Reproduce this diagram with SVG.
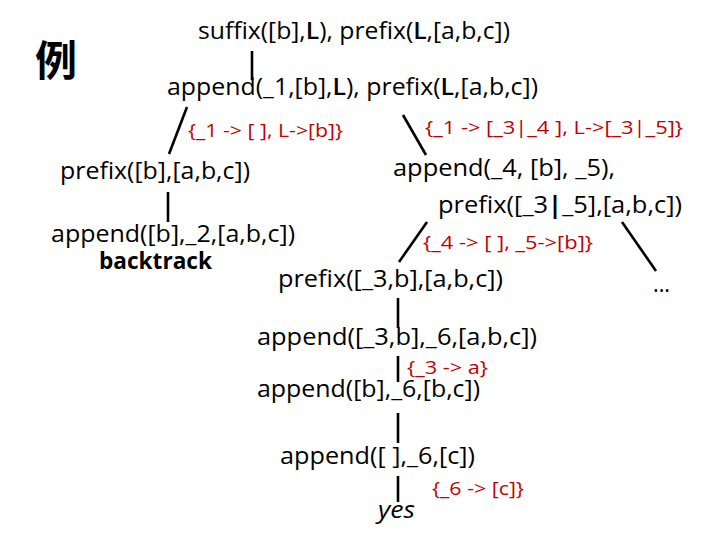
<svg xmlns="http://www.w3.org/2000/svg" width="720" height="540" viewBox="0 0 720 540">
<style>
.t{font-family:"Open Sans","Noto Sans","Liberation Sans",sans-serif;font-size:23px;fill:#000}
.r{font-family:"Open Sans","Noto Sans","Liberation Sans",sans-serif;font-size:19px;fill:#c00000}
.b{font-weight:bold}
.m{font-weight:600}
.cjk{font-family:"Noto Sans CJK SC","Noto Sans CJK JP",sans-serif;font-size:42px;font-weight:bold;fill:#000}
.c line{stroke:#000;stroke-width:2.6;stroke-linecap:butt}
</style>
<rect width="720" height="540" fill="#fff"/>
<g id="title"><text class="cjk" x="35" y="76">例</text></g>
<g class="c" id="connectors">
<line x1="252" y1="51" x2="252" y2="80"/>
<line x1="187" y1="107" x2="169" y2="154"/>
<line x1="403" y1="115" x2="426" y2="155"/>
<line x1="168" y1="192" x2="168" y2="222"/>
<line x1="427" y1="222" x2="399" y2="262"/>
<line x1="622" y1="222" x2="656" y2="271"/>
<line x1="398" y1="298" x2="398" y2="328"/>
<line x1="398" y1="356" x2="398" y2="382"/>
<line x1="398" y1="413" x2="398" y2="443"/>
<line x1="398" y1="476" x2="398" y2="502"/>
</g>
<g id="labels">
<text class="r" x="188" y="137" textLength="155" lengthAdjust="spacingAndGlyphs">{_1 -&gt; [ ], L-&gt;[b]}</text>
<text class="r" x="425" y="134" textLength="258" lengthAdjust="spacingAndGlyphs">{_1 -&gt; [_3|_4 ], L-&gt;[_3|_5]}</text>
<text class="r" x="423" y="249" textLength="170" lengthAdjust="spacingAndGlyphs">{_4 -&gt; [ ], _5-&gt;[b]}</text>
<text class="r" x="407" y="374" textLength="81" lengthAdjust="spacingAndGlyphs">{_3 -&gt; a}</text>
<text class="r" x="432" y="495" textLength="92" lengthAdjust="spacingAndGlyphs">{_6 -&gt; [c]}</text>
</g>
<g id="n0"><text class="t" x="198" y="39" textLength="312" lengthAdjust="spacingAndGlyphs">suffix([b],<tspan class="m">L</tspan>), prefix(<tspan class="m">L</tspan>,[a,b,c])</text></g>
<g id="n1"><text class="t" x="167" y="95" textLength="371" lengthAdjust="spacingAndGlyphs">append(_1,[b],<tspan class="m">L</tspan>), prefix(<tspan class="m">L</tspan>,[a,b,c])</text></g>
<g id="n2"><text class="t" x="60" y="179" textLength="190" lengthAdjust="spacingAndGlyphs">prefix([b],[a,b,c])</text></g>
<g id="n3"><text class="t" x="51" y="242" textLength="244" lengthAdjust="spacingAndGlyphs">append([b],_2,[a,b,c])</text>
<text class="t b" x="99" y="269" textLength="113" lengthAdjust="spacingAndGlyphs">backtrack</text></g>
<g id="n4"><text class="t" x="393" y="176" textLength="222" lengthAdjust="spacingAndGlyphs">append(_4, [b], _5),</text>
<text class="t" x="438" y="213" textLength="244" lengthAdjust="spacingAndGlyphs">prefix([_3<tspan class="b">|</tspan>_5],[a,b,c])</text></g>
<g id="n5"><text class="t" x="278" y="287" textLength="225" lengthAdjust="spacingAndGlyphs">prefix([_3,b],[a,b,c])</text></g>
<g id="n6"><text class="t" x="653" y="292" textLength="17" lengthAdjust="spacingAndGlyphs">...</text></g>
<g id="n7"><text class="t" x="257" y="345" textLength="280" lengthAdjust="spacingAndGlyphs">append([_3,b],_6,[a,b,c])</text></g>
<g id="n8"><text class="t" x="257" y="397" textLength="223" lengthAdjust="spacingAndGlyphs">append([b],_6,[b,c])</text></g>
<g id="n9"><text class="t" x="280" y="464" textLength="195" lengthAdjust="spacingAndGlyphs">append([ ],_6,[c])</text></g>
<g id="n10"><text class="t" x="378" y="518" textLength="37" lengthAdjust="spacingAndGlyphs" font-style="italic">yes</text></g>
</svg>
